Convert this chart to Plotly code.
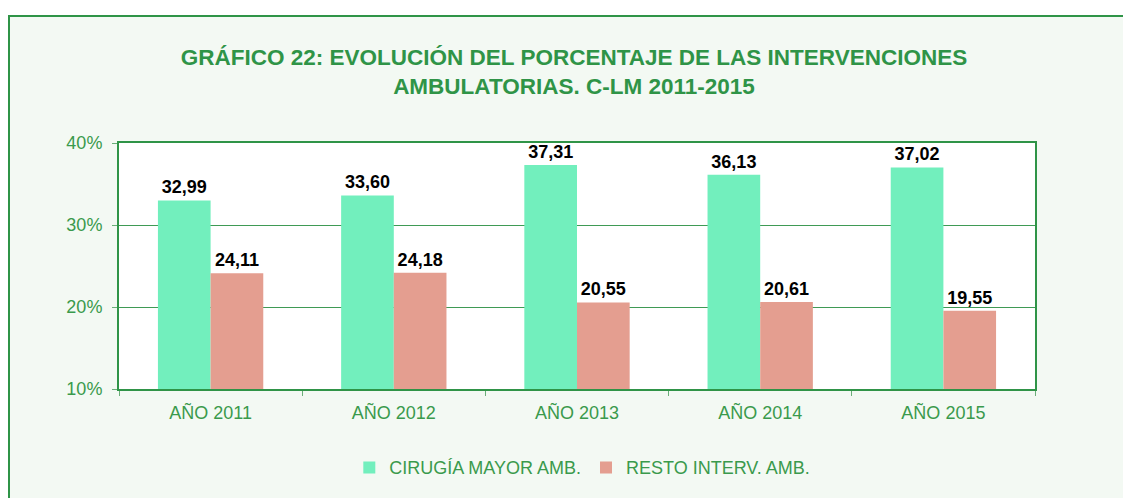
import plotly.graph_objects as go

categories = ["AÑO 2011", "AÑO 2012", "AÑO 2013", "AÑO 2014", "AÑO 2015"]
cirugia_mayor = [32.99, 33.60, 37.31, 36.13, 37.02]
resto_interv = [24.11, 24.18, 20.55, 20.61, 19.55]
series_names = ["CIRUGÍA MAYOR AMB.", "RESTO INTERV. AMB."]
y_ticks = [10, 20, 30, 40]
y_tick_labels = ["10%", "20%", "30%", "40%"]

GREEN = "#2f9447"
TICKGREEN = "#3a9a4c"
# page body has an 8px margin, so figure coords = page coords - 8
W, H = 1123, 490
L, R, T, B = 111, 96, 135, 105
pw, ph = W - L - R, H - T - B

def px_x(x):
    return (x - L) / pw

def px_y(y):
    return (H - B - y) / ph

label_font = dict(family="Liberation Sans, Arial", size=18, color="black", weight="bold")

fig = go.Figure()
fig.add_trace(go.Bar(x=categories, y=cirugia_mayor, name=series_names[0],
                     marker=dict(color="#72efbd", line=dict(width=0)),
                     texttemplate="%{y:.2f}", textposition="outside",
                     textfont=label_font, cliponaxis=False))
fig.add_trace(go.Bar(x=categories, y=resto_interv, name=series_names[1],
                     marker=dict(color="#e49e90", line=dict(width=0)),
                     texttemplate="%{y:.2f}", textposition="outside",
                     textfont=label_font, cliponaxis=False))

shapes = [
    dict(type="rect", xref="paper", yref="paper",
         x0=px_x(1), x1=px_x(W + 10), y0=px_y(H + 10), y1=px_y(6),
         line=dict(color=GREEN, width=2), fillcolor="rgba(0,0,0,0)", layer="above"),
    dict(type="rect", xref="paper", yref="paper",
         x0=px_x(-5), x1=px_x(W + 10), y0=px_y(5), y1=px_y(-5),
         line=dict(width=0), fillcolor="white", layer="above"),
]

fig.update_layout(
    width=W, height=H,
    margin=dict(l=L, r=R, t=T, b=B),
    paper_bgcolor="#f3f9f3",
    plot_bgcolor="white",
    separators=",.",
    barmode="group",
    bargap=0.425,
    bargroupgap=0,
    font=dict(family="Liberation Sans, Arial", color=TICKGREEN, size=18),
    title=dict(text="GRÁFICO 22: EVOLUCIÓN DEL PORCENTAJE DE LAS INTERVENCIONES<br>AMBULATORIAS. C-LM 2011-2015",
               x=566 / W, xanchor="center", y=1 - 57 / H, yanchor="top", yref="container",
               font=dict(family="Liberation Sans, Arial", size=22.5, color=GREEN, weight="bold")),
    xaxis=dict(tickson="boundaries", ticks="outside", ticklen=5, tickcolor="#6aae78",
               showline=True, linecolor=GREEN, linewidth=2, mirror=True,
               ticklabelstandoff=6,
               tickfont=dict(size=18, color=TICKGREEN), showgrid=False),
    yaxis=dict(range=[10, 40], tickvals=y_ticks, ticktext=y_tick_labels,
               ticks="outside", ticklen=5, tickcolor="#6aae78",
               showline=True, linecolor=GREEN, linewidth=2, mirror=True,
               ticklabelstandoff=6,
               gridcolor="#3f9a55", gridwidth=1, zeroline=False,
               tickfont=dict(size=18, color=TICKGREEN)),
    legend=dict(orientation="h", x=568 / W, xanchor="center", y=px_y(465), yanchor="middle",
                font=dict(size=18, color=TICKGREEN), bgcolor="rgba(0,0,0,0)",
                itemwidth=30, tracegroupgap=0),
    shapes=shapes,
)

fig.write_html("out.html")
